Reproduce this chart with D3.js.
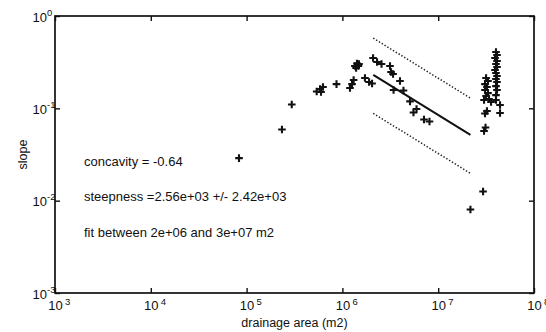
<!DOCTYPE html>
<html>
<head>
<meta charset="utf-8">
<script src="https://cdn.jsdelivr.net/npm/d3@7/dist/d3.min.js"></script>
<style>
  html, body { margin: 0; padding: 0; background: #fff; }
  svg { display: block; }
  text { font-family: "Liberation Sans", Arial, Helvetica, sans-serif; fill: #111; }
</style>
</head>
<body>
<svg id="chart" width="546" height="332"></svg>
<script>
// Slope vs drainage area samples (m2, m/m)
const areaValues = [
  8.33e4, 2.34e5, 2.96e5, 5.39e5, 5.84e5, 6.27e5, 5.98e5, 8.68e5,
  1.20e6, 1.26e6, 1.31e6, 1.35e6, 1.42e6, 1.47e6, 1.39e6, 1.49e6,
  1.72e6, 1.90e6, 2.04e6, 2.09e6, 2.30e6, 2.56e6, 3.14e6, 3.22e6,
  3.38e6, 3.99e6, 3.42e6, 4.34e6, 5.08e6, 5.52e6, 5.94e6, 7.11e6, 8.11e6,
  2.17e7, 2.94e7, 3.01e7, 3.12e7, 3.08e7, 3.23e7,
  3.16e7, 3.31e7, 3.08e7, 3.23e7, 3.08e7, 3.31e7, 3.16e7, 3.39e7, 3.56e7, 3.01e7,
  4.01e7, 4.11e7, 3.92e7, 4.11e7, 4.01e7, 4.11e7, 3.92e7, 4.01e7, 4.11e7,
  4.01e7, 4.11e7, 4.01e7, 4.11e7, 4.01e7, 4.01e7, 4.42e7, 4.42e7
];
const slopeValues = [
  0.0289, 0.0589, 0.110, 0.152, 0.162, 0.170, 0.150, 0.183,
  0.166, 0.183, 0.203, 0.287, 0.306, 0.287, 0.273, 0.302,
  0.213, 0.193, 0.186, 0.351, 0.317, 0.302, 0.287, 0.247,
  0.235, 0.198, 0.158, 0.156, 0.119, 0.0901, 0.0983, 0.0756, 0.0719,
  0.00801, 0.01255, 0.0568, 0.0619, 0.0878, 0.0935,
  0.213, 0.198, 0.183, 0.170, 0.158, 0.146, 0.136, 0.126, 0.117, 0.123,
  0.407, 0.378, 0.351, 0.325, 0.302, 0.280, 0.260, 0.241, 0.224,
  0.208, 0.193, 0.174, 0.158, 0.139, 0.123, 0.1086, 0.0889
];

// Power-law fit S = ks * A^theta and its bounding steepness values
const concavity = -0.64;
const steepness = 2.56e3;
const steepnessBounds = [6.4e3, 0.98e3];
const fitAreas = [2.1e6, 2.17e7];

const xTicks = [1e3, 1e4, 1e5, 1e6, 1e7, 1e8];
const yTicks = [1e-3, 1e-2, 1e-1, 1e0];

const annotations = [
  "concavity = -0.64",
  "steepness =2.56e+03 +/- 2.42e+03",
  "fit between 2e+06 and 3e+07 m2"
];

const svg = d3.select("#chart");
const L = 55, R = 534, T = 16, B = 293;

const x = d3.scaleLog().domain([1e3, 1e8]).range([L, R]);
const y = d3.scaleLog().domain([1e-3, 1]).range([B, T]);

const expOf = v => Math.round(Math.log10(v));

// Inward ticks on all four sides
const tick = 5;
const gB = svg.append("g").attr("transform", `translate(0,${B})`)
  .call(d3.axisBottom(x).tickValues(xTicks).tickSizeInner(-tick).tickSizeOuter(0).tickFormat(""));
const gT = svg.append("g").attr("transform", `translate(0,${T})`)
  .call(d3.axisTop(x).tickValues(xTicks).tickSizeInner(-tick).tickSizeOuter(0).tickFormat(""));
const gL = svg.append("g").attr("transform", `translate(${L},0)`)
  .call(d3.axisLeft(y).tickValues(yTicks).tickSizeInner(-tick).tickSizeOuter(0).tickFormat(""));
const gR = svg.append("g").attr("transform", `translate(${R},0)`)
  .call(d3.axisRight(y).tickValues(yTicks).tickSizeInner(-tick).tickSizeOuter(0).tickFormat(""));
[gB, gT, gL, gR].forEach(g => {
  g.select(".domain").remove();
  g.selectAll(".tick line").attr("stroke", "#111").attr("stroke-width", 1.4);
});

// Power-of-ten tick labels
gB.selectAll(".tick").each(function(d) {
  const t = d3.select(this);
  t.append("text").attr("x", 0).attr("y", 16.5).attr("text-anchor", "middle")
    .attr("font-size", 13).text("10");
  t.append("text").attr("x", 9.5).attr("y", 12).attr("text-anchor", "start")
    .attr("font-size", 9.5).text(expOf(d));
});
gL.selectAll(".tick").each(function(d) {
  const t = d3.select(this);
  t.append("text").attr("x", -8).attr("y", 5).attr("text-anchor", "end")
    .attr("font-size", 13).text("10");
  t.append("text").attr("x", -8).attr("y", -1).attr("text-anchor", "start")
    .attr("font-size", 9.5).text(expOf(d));
});

// Plot frame
svg.append("rect")
  .attr("x", L).attr("y", T).attr("width", R - L).attr("height", B - T)
  .attr("fill", "none").attr("stroke", "#111").attr("stroke-width", 1.7);

// Fit line and bounds
const fitLine = ks => d3.line()
  .x(a => x(a))
  .y(a => y(ks * Math.pow(a, concavity)));

svg.append("path").datum(fitAreas)
  .attr("d", fitLine(steepness))
  .attr("fill", "none").attr("stroke", "#111").attr("stroke-width", 2);

steepnessBounds.forEach(ks => {
  svg.append("path").datum(fitAreas)
    .attr("d", fitLine(ks))
    .attr("fill", "none").attr("stroke", "#222").attr("stroke-width", 1.5)
    .attr("stroke-dasharray", "1.4,1.9");
});

// "+" markers
const pts = areaValues.map((a, i) => [a, slopeValues[i]]);
const arm = 3.8;
svg.append("g").selectAll("path").data(pts).join("path")
  .attr("d", d => {
    const px = x(d[0]), py = y(d[1]);
    return `M${px - arm},${py}H${px + arm}M${px},${py - arm}V${py + arm}`;
  })
  .attr("stroke", "#111").attr("stroke-width", 2.1).attr("fill", "none");

// Fit summary text
svg.append("g").selectAll("text").data(annotations).join("text")
  .attr("x", 84).attr("y", (d, i) => 166 + i * 35.3)
  .attr("font-size", 13).text(d => d);

// Axis titles
svg.append("text").attr("x", (L + R) / 2).attr("y", 326.5)
  .attr("text-anchor", "middle").attr("font-size", 12.5).text("drainage area (m2)");
svg.append("text").attr("transform", `translate(27,${(T + B) / 2}) rotate(-90)`)
  .attr("text-anchor", "middle").attr("font-size", 12.5).text("slope");
</script>
</body>
</html>
